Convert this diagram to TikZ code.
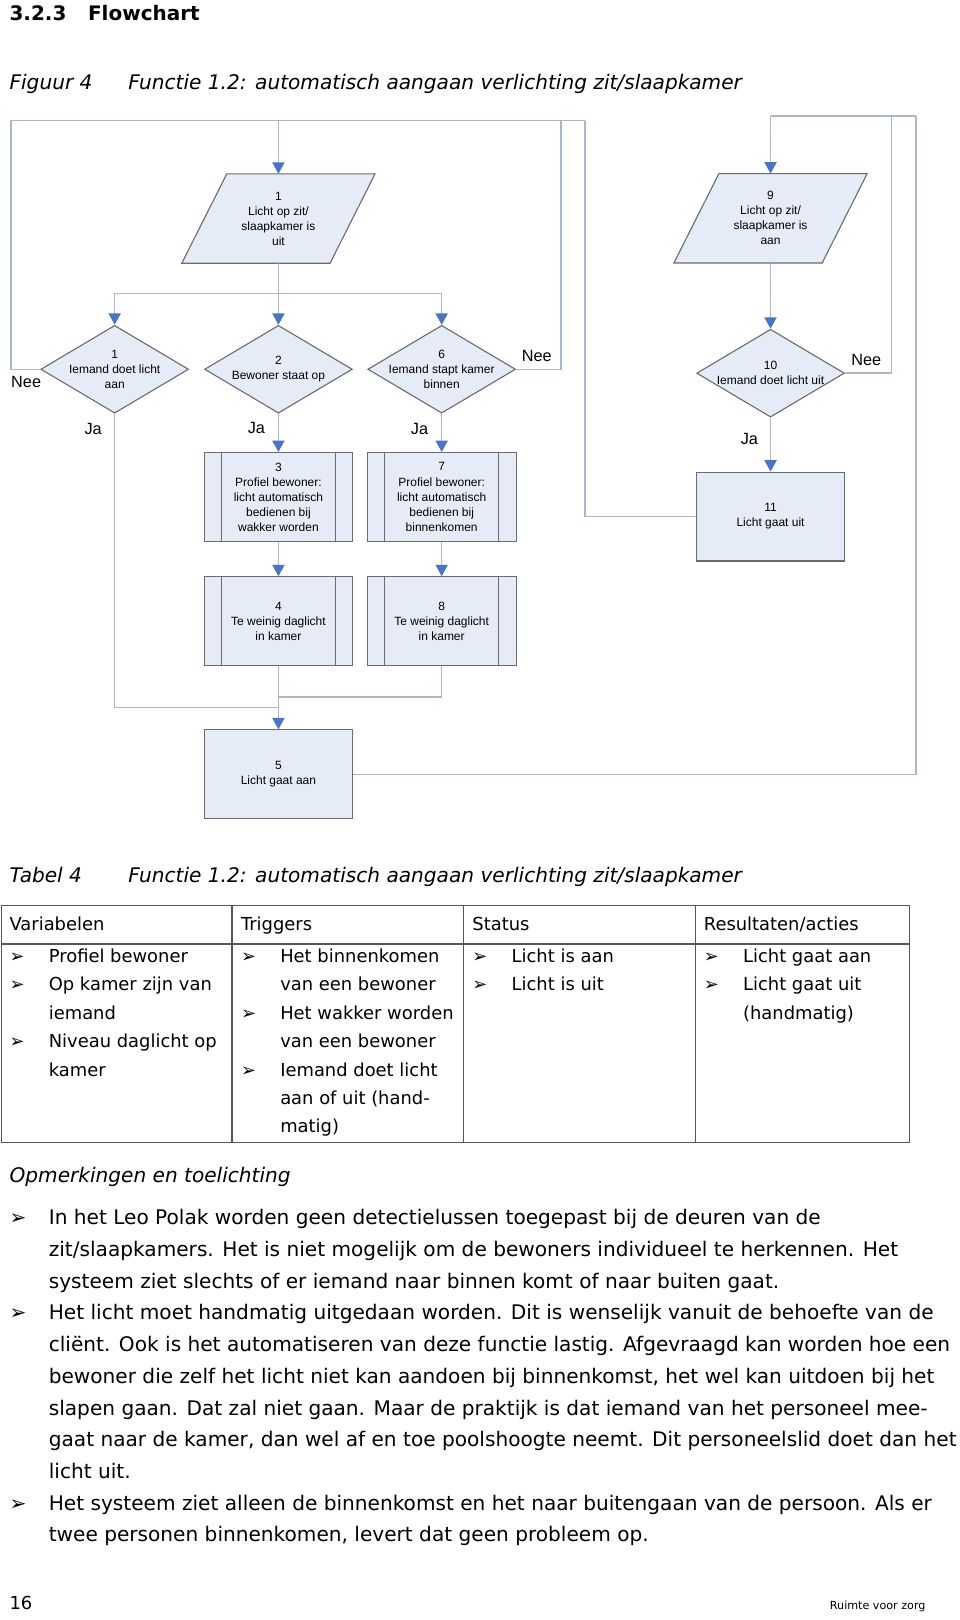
\documentclass[tikz,border=0pt]{standalone}
\usepackage{fontspec}
\setmainfont{DejaVu Sans}
\newfontfamily\arialf{Liberation Sans}
\usetikzlibrary{arrows.meta,shapes.geometric}
\definecolor{nodefill}{HTML}{E6ECF7}
\definecolor{nodeborder}{HTML}{6B6B6B}
\definecolor{linegray}{HTML}{A8B7CB}
\definecolor{arrowblue}{HTML}{4A75C2}
\definecolor{tableline}{HTML}{555555}
\begin{document}
\begin{tikzpicture}[x=0.75pt,y=-0.75pt,
  conn/.style={draw=linegray,line width=1.1pt},
  arr/.style={conn,-{Triangle[width=8.8pt,length=8.3pt,color=arrowblue]}},
  ftext/.style={font=\arialf\fontsize{8.7pt}{10.9pt}\selectfont,align=center,inner sep=0pt},
  procbox/.style={ftext,draw=nodeborder,fill=nodefill,line width=0.8pt,rectangle,minimum width=108pt,minimum height=64.5pt},
  dia/.style={draw=nodeborder,fill=nodefill,line width=0.8pt,diamond,minimum width=107.25pt,minimum height=63.75pt,inner sep=0pt},
  ghost/.style={ftext,rectangle,minimum width=139.9pt,minimum height=64.5pt},
  para/.style={draw=nodeborder,fill=nodefill,line width=0.8pt},
  innerline/.style={draw=nodeborder,line width=0.8pt},
  yn/.style={font=\arialf\fontsize{11.8pt}{14pt}\selectfont,inner sep=0pt},
  bodytxt/.style={font=\fontsize{13pt}{16pt}\selectfont,anchor=base west,inner sep=0pt},
  remtxt/.style={font=\fontsize{14.6pt}{17pt}\selectfont,anchor=base west,inner sep=0pt},
  captxt/.style={font=\itshape\fontsize{14.6pt}{17pt}\selectfont,anchor=base west,inner sep=0pt},
  headtxt/.style={font=\bfseries\fontsize{14.5pt}{17pt}\selectfont,anchor=base west,inner sep=0pt},
  tabline/.style={draw=tableline,line width=0.9pt}
]
\useasboundingbox (0,0) rectangle (929,1568);
\fill[white] (0,0) rectangle (929,1568);

% ---------- headings ----------
\node[headtxt] (h1) at (9,19.4) {3.2.3};
\node[headtxt] (h2) at (85,19.4) {Flowchart};
\node[captxt] (fc1) at (9,87) {Figuur 4};
\node[captxt] (fc2) at (124,87) {Functie 1.2: automatisch aangaan verlichting zit/slaapkamer};

% ---------- flowchart shapes ----------
\node[ghost] (p1) at (269.5,211.5) {};
\draw[para] (p1.south west) -- ++(143.5,0) -- (p1.north east) -- ++(-143.5,0) -- cycle;
\node[ftext] (p1t) at (p1) {1\\Licht op zit/\\slaapkamer is\\uit};

\node[ghost] (p9) at (745.8,211.3) {};
\draw[para] (p9.south west) -- ++(143.5,0) -- (p9.north east) -- ++(-143.5,0) -- cycle;
\node[ftext] (p9t) at (p9) {9\\Licht op zit/\\slaapkamer is\\aan};

\node[dia] (d1) at (111,357.4) {};
\node[ftext] (d1t) at (d1) {1\\Iemand doet licht\\aan};
\node[dia] (d2) at (269.5,357.4) {};
\node[ftext] (d2t) at (d2) {2\\Bewoner staat op};
\node[dia] (d6) at (427.5,357.4) {};
\node[ftext] (d6t) at (d6) {6\\Iemand stapt kamer\\binnen};
\node[dia] (d10) at (745.8,361.2) {};
\node[ftext] (d10t) at (d10) {10\\Iemand doet licht uit};

\node[procbox] (b3) at (269.5,481) {3\\Profiel bewoner:\\licht automatisch\\bedienen bij\\wakker worden};
\node[procbox] (b7) at (427.5,481) {7\\Profiel bewoner:\\licht automatisch\\bedienen bij\\binnenkomen};
\node[procbox] (b4) at (269.5,601.3) {4\\Te weinig daglicht\\in kamer};
\node[procbox] (b8) at (427.5,601.3) {8\\Te weinig daglicht\\in kamer};
\foreach \b in {b3,b7,b4,b8}{
  \draw[innerline] ([xshift=12.9pt]\b.north west) -- ([xshift=12.9pt]\b.south west);
  \draw[innerline] ([xshift=-12.9pt]\b.north east) -- ([xshift=-12.9pt]\b.south east);
}
\node[procbox] (b5) at (269.5,749.5) {5\\Licht gaat aan};
\node[procbox] (b11) at (745.8,500) {11\\Licht gaat uit};

% ---------- connectors, left part ----------
\coordinate (tl) at (10.4,116.8);
\coordinate (tr) at (566,116.8);
\coordinate (t6) at (543,116.8);
\coordinate (tp1) at (269.5,116.8);
\coordinate (split) at (269.5,284.2);
\coordinate (jn1) at (269.5,684.8);
\coordinate (jn2) at (269.5,674.8);

\draw[conn] (d1.west) -| (tl) -- (tr);
\draw[conn] (d6.east) -| (t6);
\draw[conn] (b11.west) -| (tr);
\draw[arr] (tp1) -- (p1.north);
\draw[conn] (p1.south) -- (split);
\draw[arr] (split) -| (d1.north);
\draw[arr] (split) -| (d6.north);
\draw[arr] (split) -- (d2.north);
\draw[arr] (d2.south) -- (b3.north);
\draw[arr] (b3.south) -- (b4.north);
\draw[arr] (d6.south) -- (b7.north);
\draw[arr] (b7.south) -- (b8.north);
\draw[conn] (d1.south) |- (jn1);
\draw[conn] (b8.south) |- (jn2);
\draw[arr] (b4.south) -- (b5.north);

% ---------- connectors, right part ----------
\coordinate (rtl) at (745.8,112.3);
\coordinate (rt10) at (863,112.3);
\coordinate (rtr) at (886.4,112.3);
\draw[conn] (rtl) -- (rtr);
\draw[arr] (rtl) -- (p9.north);
\draw[arr] (p9.south) -- (d10.north);
\draw[conn] (d10.east) -| (rt10);
\draw[arr] (d10.south) -- (b11.north);
\draw[conn] (b5.east) -| (rtr);

% ---------- Ja / Nee ----------
\node[yn] (n1) at (25.3,369.3) {Nee};
\node[yn] (n6) at (519.5,345) {Nee};
\node[yn] (n10) at (838.5,348.4) {Nee};
\node[yn] (j1) at (90.2,415) {Ja};
\node[yn] (j2) at (248.2,414) {Ja};
\node[yn] (j6) at (406,415) {Ja};
\node[yn] (j10) at (725.3,425) {Ja};

% ---------- table ----------
\node[captxt] (tc1) at (9,853.8) {Tabel 4};
\node[captxt] (tc2) at (124,853.8) {Functie 1.2: automatisch aangaan verlichting zit/slaapkamer};
\draw[tabline] (1.5,876.7) rectangle (880.5,1105.7);
\draw[tabline] (1.5,913.8) -- (880.5,913.8);
\draw[tabline] (224.6,876.7) -- (224.6,1105.7);
\draw[tabline] (448.6,876.7) -- (448.6,1105.7);
\draw[tabline] (673,876.7) -- (673,1105.7);

\node[bodytxt] (th1) at (9,901) {Variabelen};
\node[bodytxt] (th2) at (233,901) {Triggers};
\node[bodytxt] (th3) at (457,901) {Status};
\node[bodytxt] (th4) at (681,901) {Resultaten/acties};

% bullets in table
\foreach \x/\y [count=\i] in {9/931.5, 9/959, 9/1014, 233/931.5, 233/986.5, 233/1041.5, 457/931.5, 457/959, 681/931.5, 681/959}{
  \node[bodytxt] (tb\i) at (\x,\y) {➢};
}
% column 1
\node[bodytxt] (c1a) at (47,931.5) {Profiel bewoner};
\node[bodytxt] (c1b) at (47,959) {Op kamer zijn van};
\node[bodytxt] (c1c) at (47,986.5) {iemand};
\node[bodytxt] (c1d) at (47,1014) {Niveau daglicht op};
\node[bodytxt] (c1e) at (47,1041.5) {kamer};
% column 2
\node[bodytxt] (c2a) at (271,931.5) {Het binnenkomen};
\node[bodytxt] (c2b) at (271,959) {van een bewoner};
\node[bodytxt] (c2c) at (271,986.5) {Het wakker worden};
\node[bodytxt] (c2d) at (271,1014) {van een bewoner};
\node[bodytxt] (c2e) at (271,1041.5) {Iemand doet licht};
\node[bodytxt] (c2f) at (271,1069) {aan of uit (hand-};
\node[bodytxt] (c2g) at (271,1096.5) {matig)};
% column 3
\node[bodytxt] (c3a) at (495,931.5) {Licht is aan};
\node[bodytxt] (c3b) at (495,959) {Licht is uit};
% column 4
\node[bodytxt] (c4a) at (719,931.5) {Licht gaat aan};
\node[bodytxt] (c4b) at (719,959) {Licht gaat uit};
\node[bodytxt] (c4c) at (719,986.5) {(handmatig)};

% ---------- remarks ----------
\node[captxt] (op) at (9,1145) {Opmerkingen en toelichting};
\foreach \y [count=\i] in {1185.4,1277.5,1461.7}{
  \node[remtxt] (rb\i) at (9,\y) {➢};
}
\node[remtxt] (r1) at (47,1185.4) {In het Leo Polak worden geen detectielussen toegepast bij de deuren van de};
\node[remtxt] (r2) at (47,1216.1) {zit/slaapkamers. Het is niet mogelijk om de bewoners individueel te herkennen. Het};
\node[remtxt] (r3) at (47,1246.8) {systeem ziet slechts of er iemand naar binnen komt of naar buiten gaat.};
\node[remtxt] (r4) at (47,1277.5) {Het licht moet handmatig uitgedaan worden. Dit is wenselijk vanuit de behoefte van de};
\node[remtxt] (r5) at (47,1308.2) {cliënt. Ook is het automatiseren van deze functie lastig. Afgevraagd kan worden hoe een};
\node[remtxt] (r6) at (47,1338.9) {bewoner die zelf het licht niet kan aandoen bij binnenkomst, het wel kan uitdoen bij het};
\node[remtxt] (r7) at (47,1369.6) {slapen gaan. Dat zal niet gaan. Maar de praktijk is dat iemand van het personeel mee-};
\node[remtxt] (r8) at (47,1400.3) {gaat naar de kamer, dan wel af en toe poolshoogte neemt. Dit personeelslid doet dan het};
\node[remtxt] (r9) at (47,1431) {licht uit.};
\node[remtxt] (r10) at (47,1461.7) {Het systeem ziet alleen de binnenkomst en het naar buitengaan van de persoon. Als er};
\node[remtxt] (r11) at (47,1492.4) {twee personen binnenkomen, levert dat geen probleem op.};

% ---------- footer ----------
\node[bodytxt] (pg) at (9,1558) {16};
\node[bodytxt,font=\fontsize{8.1pt}{9pt}\selectfont] (ft) at (803,1558) {Ruimte voor zorg};
\end{tikzpicture}
\end{document}
